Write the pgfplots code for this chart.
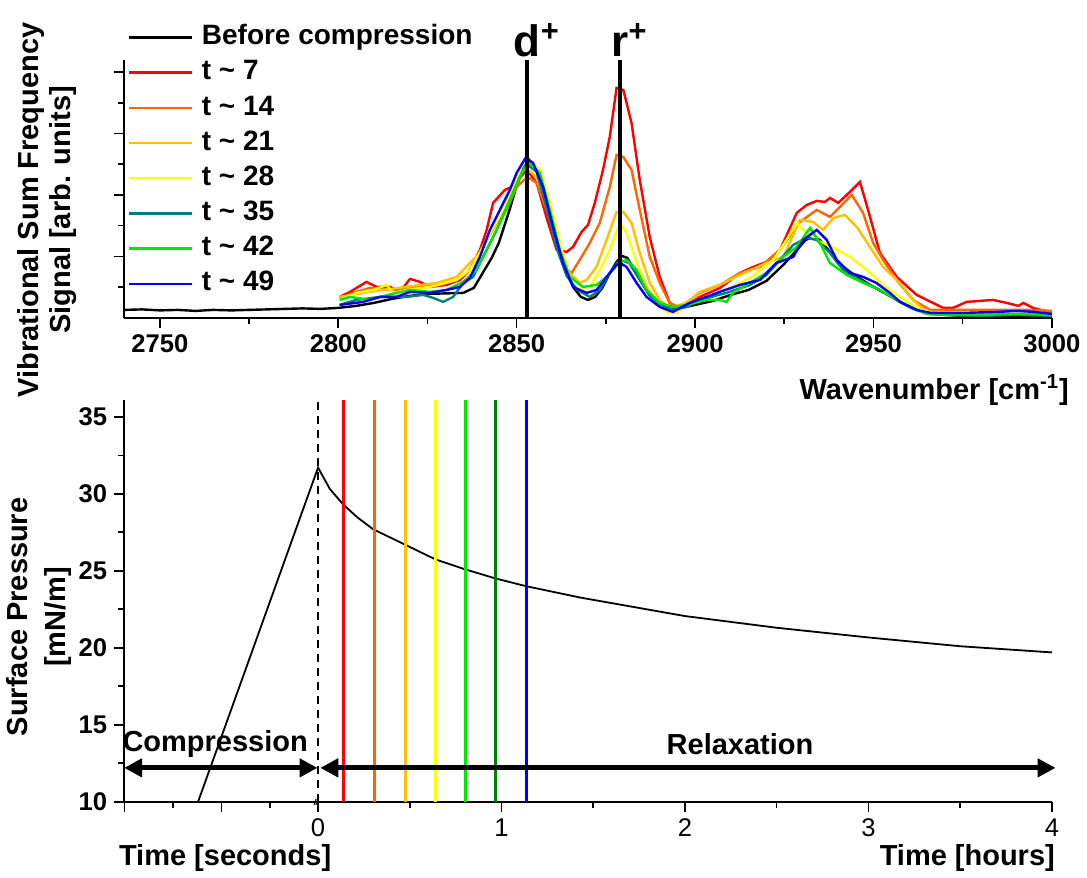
\documentclass[border=0pt]{standalone}
\usepackage{pgfplots}
\pgfplotsset{compat=1.18}
\usepackage{fontspec}
\setmainfont{Liberation Sans}
\usetikzlibrary{arrows.meta}
\definecolor{cRed}{RGB}{255,0,0}
\definecolor{cOrange}{RGB}{255,102,0}
\definecolor{cGold}{RGB}{255,192,0}
\definecolor{cYellow}{RGB}{255,255,0}
\definecolor{cTeal}{RGB}{0,128,128}
\definecolor{cGreen}{RGB}{0,230,0}
\definecolor{cDkGreen}{RGB}{0,128,0}
\definecolor{cBlue}{RGB}{0,0,255}
\newcommand{\fs}{\fontsize{12.8}{15.5}\selectfont}
\newcommand{\fl}{\fontsize{14.5}{16}\selectfont}
\begin{document}
\begin{tikzpicture}
\path (0,0) rectangle (543.5pt,439pt);
% ---------------- top axis ----------------
\begin{axis}[
  at={(62pt,280pt)}, anchor=south west,
  width=464pt, height=129pt, scale only axis,
  xmin=2740, xmax=3000, ymin=0, ymax=258,
  axis x line*=bottom, axis y line*=left,
  axis line style={-, line width=1pt},
  xtick={2750,2800,2850,2900,2950,3000},
  minor xtick={2775,2825,2875,2925,2975},
  ytick={61.5,123,184.5,246}, yticklabels={},
  minor ytick={30.75,92.25,153.75,215.25},
  tick align=outside,
  major tick length=5pt, minor tick length=3pt,
  every tick/.style={black, line width=0.8pt},
  /pgf/number format/assume math mode=true,
  /pgf/number format/set thousands separator={},
  xticklabel style={font=\fs\bfseries},
  clip=false,
  legend style={draw=none, fill=none, at={(0.003,1.14)}, anchor=north west,
    font=\fontsize{14}{16}\selectfont\bfseries, inner sep=0pt, row sep=4.4pt,
    nodes={inner sep=0pt, text height=10.2pt, text depth=3pt},
    /tikz/every odd column/.append style={column sep=4.5pt}},
  legend cell align=left,
  legend image code/.code={\draw[#1] (0pt,0pt) -- (31.6pt,0pt);},
]
\addplot[black, line width=1.2pt] coordinates {
(2740,8)(2745,8.5)(2750,7.5)(2755,8)(2760,7)(2765,8)(2770,7.5)(2775,8)(2780,8.5)(2785,9)(2790,9.5)(2795,9)(2800,10)
(2805,12)(2810,15)(2815,19)(2820,22)(2825,24)(2830,24.5)(2835,25)(2838,30)(2840,42)(2843,60)(2845,75)(2848,108)
(2850,132)(2852,150)(2853.5,158)(2855,152)(2857,140)(2860,103)(2862,70)(2864,45)(2866,30)(2868,21)(2870,18)
(2872,21)(2874,30)(2876,44)(2878,56)(2879.5,62)(2881,60)(2883,48)(2885,36)(2887,25)(2890,15)(2893,10)(2895,9)
(2900,13)(2905,17)(2910,23)(2915,28)(2920,37)(2925,54)(2928,66)(2931,78)(2933,81)(2935,78)(2938,65)(2940,55)
(2945,42)(2950,31)(2955,21)(2960,11)(2965,5)(2970,3)(2975,2)(2980,2)(2990,2)(3000,2)};
\addlegendentry{Before compression}
\addplot[cRed, line width=1.2pt] coordinates {
(2800.4,21)(2803.3,26)(2807.9,36)(2810.7,31)(2814.5,31)(2817.3,26)(2820.1,39)(2822.9,36)(2825.7,31)(2830.4,33)
(2834.1,38)(2836.9,48)(2839.7,68)(2841.6,88)(2843.4,115)(2846.7,128)(2848.6,131)(2852.9,148)(2855.6,135)
(2858.4,100)(2861.2,68)(2864.0,66)(2865.8,71)(2868.2,86)(2870.0,93)(2871.9,115)(2874.2,148)(2876.1,181)
(2878.0,230)(2879.9,228)(2882.2,195)(2884.5,138)(2887.3,81)(2890.1,41)(2892.9,15)(2894.8,11)(2898.5,14)
(2901.3,21)(2907.0,30)(2912.6,45)(2916.3,51)(2920.0,56)(2923.8,68)(2928.5,105)(2931.3,113)(2934.1,117)
(2936.4,116)(2937.8,120)(2940.1,115)(2943.4,126)(2946.2,136)(2948.5,108)(2951.8,65)(2956.5,41)(2962.1,23)
(2969.5,10)(2972.3,10)(2976.1,16)(2983.5,18)(2987.3,15)(2990.6,12)(2992.0,15)(2994.7,10)(2998.0,7)(3000,5)};
\addlegendentry{t \textasciitilde{} 7}
\addplot[cOrange, line width=1.2pt] coordinates {
(2800.4,20)(2805.1,26)(2808.9,30)(2816.3,28)(2821.9,31)(2828.5,33)(2833.2,38)(2836.0,45)(2838.8,58)(2841.6,78)
(2844.4,95)(2847.2,108)(2850.0,131)(2853.0,141)(2855.6,135)(2858.4,108)(2861.2,78)(2864.0,48)(2865.4,45)
(2867.7,58)(2870.5,75)(2873.3,95)(2876.1,131)(2878.0,163)(2879.9,161)(2882.2,148)(2884.5,108)(2887.3,61)
(2890.1,35)(2892.9,15)(2895.7,10)(2901.3,25)(2907.0,33)(2912.6,45)(2918.2,51)(2923.8,68)(2929.4,96)
(2934.1,108)(2937.8,101)(2940.6,111)(2943.9,123)(2947.1,105)(2949.9,75)(2952.7,58)(2956.5,38)(2961.1,18)
(2965.8,8)(2975,8)(2985,8)(2995,8)(3000,7)};
\addlegendentry{t \textasciitilde{} 14}
\addplot[cGold, line width=1.2pt] coordinates {
(2800.4,21)(2807.0,25)(2812.6,28)(2819.1,31)(2827.6,35)(2833.2,41)(2836.9,55)(2839.2,63)(2841.6,78)(2845.3,101)
(2850.0,138)(2851.8,148)(2853.2,148)(2855.6,141)(2858.4,115)(2861.2,81)(2864.0,48)(2867.7,35)(2869.6,38)
(2872.4,51)(2875.2,78)(2878.0,106)(2879.9,106)(2882.2,95)(2884.5,65)(2887.3,35)(2890.1,18)(2892.9,10)
(2897.6,15)(2901.3,26)(2906.9,33)(2912.6,43)(2920.0,55)(2924.7,61)(2929.4,98)(2933.1,96)(2935.9,88)
(2938.8,100)(2942.0,103)(2945.3,91)(2949.0,71)(2952.7,51)(2957.4,35)(2961.1,18)(2964.9,6)(2970,4)(2980,4)
(2990,4)(3000,4)};
\addlegendentry{t \textasciitilde{} 21}
\addplot[cYellow, line width=1.2pt] coordinates {
(2800.4,18)(2805.1,25)(2809.8,28)(2813.5,33)(2815.4,25)(2819.1,28)(2825.7,31)(2833.2,38)(2836.9,48)(2839.7,65)
(2842.5,85)(2846.2,108)(2850.0,141)(2852.8,151)(2854.2,156)(2856.5,148)(2859.3,115)(2862.1,75)(2864.9,41)
(2868.6,30)(2870.5,31)(2873.3,48)(2876.1,68)(2878.9,95)(2880.8,85)(2883.1,61)(2885.9,35)(2889.2,15)(2892.0,6)
(2894.8,5)(2898.5,15)(2903.2,18)(2906.9,25)(2915.4,40)(2921.9,58)(2925.6,78)(2928.5,95)(2930.3,88)(2934.1,78)
(2938.8,70)(2943.4,61)(2948.1,48)(2952.7,33)(2957.4,21)(2963.0,8)(2970,3)(2980,3)(2990,4)(3000,3)};
\addlegendentry{t \textasciitilde{} 28}
\addplot[cTeal, line width=1.2pt] coordinates {
(2800.4,13)(2805.1,18)(2811.7,21)(2819.1,21)(2823.8,23)(2826.6,20)(2829.4,16)(2832.2,21)(2835.0,35)(2837.8,41)
(2840.6,61)(2844.4,88)(2848.1,118)(2851.8,148)(2853.5,152)(2855.6,146)(2858.4,110)(2861.2,70)(2864.0,42)
(2867.0,28)(2870.5,21)(2873.3,28)(2876.1,45)(2878.9,58)(2881.5,55)(2884.5,38)(2887.3,22)(2890.1,14)(2893.8,8)
(2897.6,11)(2901.3,18)(2908.8,25)(2915.4,33)(2920.0,43)(2923.8,58)(2927.5,73)(2931.3,80)(2934.1,78)(2937.8,65)
(2941.5,48)(2946.2,38)(2951.8,28)(2956.5,18)(2961,10)(2965,4)(2970,3)(2980,2)(2990,3)(3000,2)};
\addlegendentry{t \textasciitilde{} 35}
\addplot[cGreen, line width=1.2pt] coordinates {
(2800.4,18)(2803.3,21)(2808.9,18)(2811.7,21)(2816.3,25)(2820.1,28)(2825.7,26)(2830.4,28)(2835.0,36)(2838.8,48)
(2841.6,68)(2845.3,95)(2849.0,125)(2852.3,151)(2853.5,155)(2856.5,145)(2859.3,108)(2862.1,68)(2864.9,41)
(2868.6,31)(2872.4,33)(2875.2,41)(2878.9,56)(2880.8,58)(2883.6,48)(2886.4,28)(2890.1,15)(2893.8,11)(2897.6,13)
(2903.2,18)(2906.9,18)(2908.8,16)(2910.6,25)(2920.0,45)(2924.7,61)(2928.5,71)(2932.2,90)(2935.0,75)(2937.8,55)
(2942.5,43)(2947.1,35)(2951.8,28)(2956.5,18)(2961,9)(2965,4)(2970,3)(2980,3)(2990,4)(3000,3)};
\addlegendentry{t \textasciitilde{} 42}
\addplot[cBlue, line width=1.2pt] coordinates {
(2800.4,13)(2807.0,16)(2811.7,21)(2816.3,21)(2820.1,26)(2825.7,25)(2830.4,28)(2834.1,31)(2836.9,40)(2839.7,61)
(2842.5,88)(2845.3,108)(2848.1,128)(2850.0,145)(2852.5,160)(2854.6,155)(2857.4,131)(2860.2,91)(2863.0,55)
(2865.8,31)(2869.6,25)(2872.4,28)(2875.2,41)(2878.0,53)(2878.9,55)(2880.8,51)(2883.6,35)(2886.4,21)(2890.1,11)
(2893.8,6)(2898.5,15)(2903.2,21)(2906.9,26)(2912.6,33)(2918.2,38)(2922.8,55)(2927.5,61)(2930.3,78)(2934.1,88)
(2936.9,78)(2939.7,58)(2943.4,45)(2947.1,41)(2950.8,35)(2954.6,25)(2957.4,16)(2962,8)(2966,5)(2975,5)(2985,6)
(2990,7)(2995,6)(3000,4)};
\addlegendentry{t \textasciitilde{} 49}
\addplot[black, line width=2pt, forget plot] coordinates {(2853,0)(2853,258)};
\addplot[black, line width=2pt, forget plot] coordinates {(2879,0)(2879,258)};
\node[anchor=base, font=\fontsize{22}{26}\selectfont\bfseries, yshift=1.5pt] at (axis cs:2853,258) {d\rlap{\textsuperscript{+}}};
\node[anchor=base, font=\fontsize{22}{26}\selectfont\bfseries, yshift=1.5pt] at (axis cs:2879,258) {r\rlap{\textsuperscript{+}}};
\end{axis}
% labels top
\node[rotate=90, align=center, font=\fl\bfseries] at (23.5pt,334pt) {Vibrational Sum Frequency\\Signal [arb. units]};
\node[anchor=east, font=\fl\bfseries] at (538pt,244pt) {Wavenumber [cm\textsuperscript{-1}]};
% ---------------- bottom axis ----------------
\begin{axis}[
  at={(62pt,38pt)}, anchor=south west,
  width=464pt, height=201pt, scale only axis,
  xmin=-1.057, xmax=4, ymin=10, ymax=36.1,
  axis x line*=bottom, axis y line*=left,
  axis line style={-, line width=1pt},
  xtick={-1.054,-0.527,0,1,2,3,4}, xticklabels={,,0,1,2,3,4},
  minor xtick={-0.790,-0.263,0.5,1.5,2.5,3.5},
  ytick={10,15,20,25,30,35}, minor ytick={12.5,17.5,22.5,27.5,32.5},
  tick align=outside,
  major tick length=5pt, minor tick length=3pt,
  every tick/.style={black, line width=0.8pt},
  /pgf/number format/assume math mode=true,
  xticklabel style={font=\fs\mdseries},
  yticklabel style={font=\fs\bfseries},
  clip=false,
]
\addplot[black, line width=0.9pt] coordinates {
(-0.654,10)(-0.327,20.85)(0,31.7)
(0.065,30.3)(0.138,29.3)(0.211,28.5)(0.30,27.7)(0.474,26.7)(0.638,25.75)(0.80,25.1)(0.968,24.5)(1.134,24.0)
(1.43,23.26)(2,22.06)(2.5,21.3)(3,20.67)(3.5,20.1)(4,19.7)};
\addplot[black, line width=0.8pt, dash pattern=on 4pt off 3pt] coordinates {(0,10)(0,36.1)};
\addplot[cRed, line width=1.5pt] coordinates {(0.138,10)(0.138,36.1)};
\addplot[cOrange, line width=1.5pt] coordinates {(0.305,10)(0.305,36.1)};
\addplot[cGold, line width=1.5pt] coordinates {(0.474,10)(0.474,36.1)};
\addplot[cYellow, line width=1.5pt] coordinates {(0.638,10)(0.638,36.1)};
\addplot[cGreen, line width=1.5pt] coordinates {(0.801,10)(0.801,36.1)};
\addplot[cDkGreen, line width=1.5pt] coordinates {(0.968,10)(0.968,36.1)};
\addplot[cBlue, line width=1.5pt] coordinates {(1.134,10)(1.134,36.1)};
\draw[line width=2.5pt, {Triangle[length=9pt,width=9pt]}-{Triangle[length=9pt,width=9pt]}] (axis cs:-1.057,12.2) -- (axis cs:-0.003,12.2);
\draw[line width=2.5pt, {Triangle[length=9pt,width=9pt]}-{Triangle[length=9pt,width=9pt]}] (axis cs:0.012,12.2) -- (axis cs:4.02,12.2);
\node[font=\fl\bfseries] at (axis cs:-0.561,13.75) {Compression};
\node[font=\fl\bfseries] at (axis cs:2.30,13.75) {Relaxation};
\draw[line width=0.5pt] (axis cs:-0.022,9.8) -- (axis cs:-0.010,10.2);
\draw[line width=0.5pt] (axis cs:-0.012,9.8) -- (axis cs:0.000,10.2);
\end{axis}
\node[rotate=90, align=center, font=\fl\bfseries] at (19.5pt,130.5pt) {Surface Pressure\\[3pt]{[mN/m]}};
\node[font=\fl\bfseries] at (112.5pt,10pt) {Time [seconds]};
\node[anchor=east, font=\fl\bfseries] at (531pt,10pt) {Time [hours]};
\end{tikzpicture}
\end{document}
